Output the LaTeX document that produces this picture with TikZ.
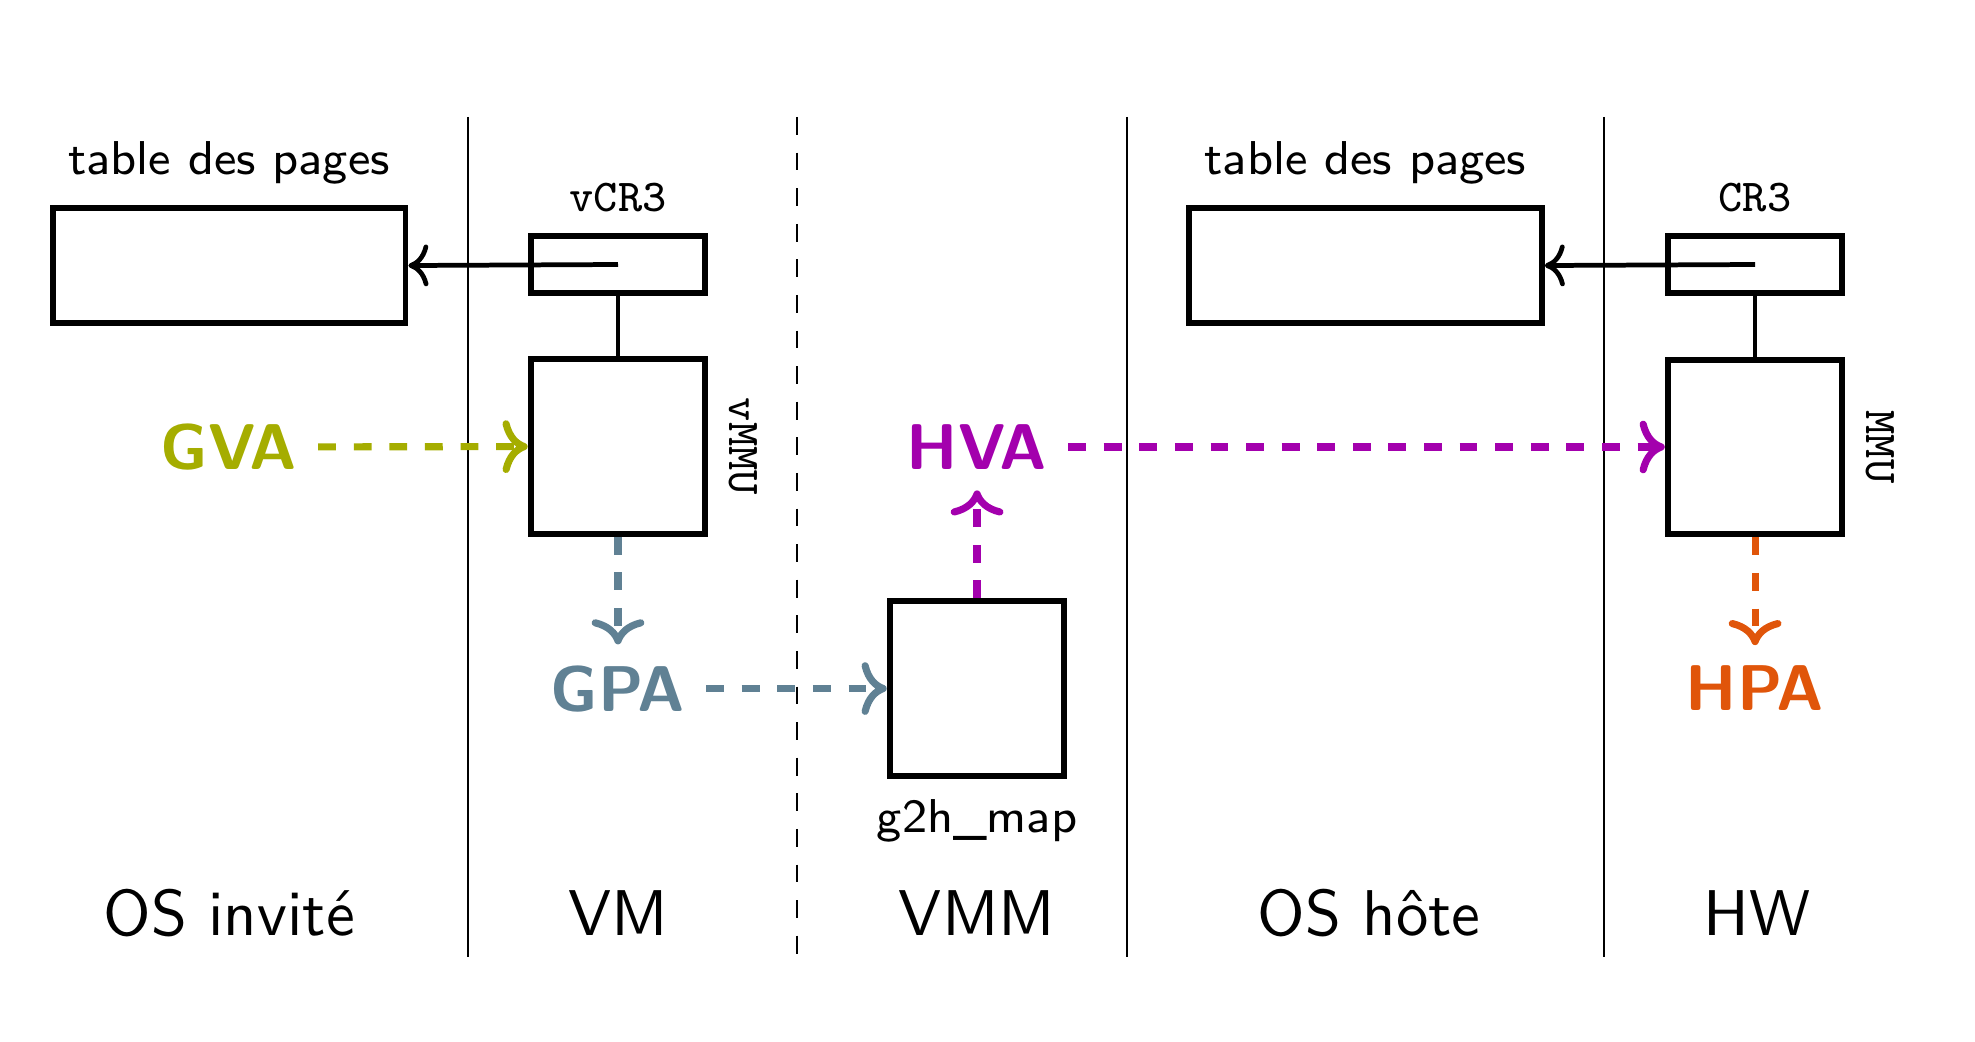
\documentclass[tikz,border=0pt]{standalone}
\usepackage{amsmath}
\usepackage[table]{xcolor}
\usetikzlibrary{arrows, arrows.meta}
\usetikzlibrary{calc}

\definecolor{gvacol}{RGB}{165,173,0}
\definecolor{gpacol}{RGB}{96,129,148}
\definecolor{hvacol}{RGB}{163,0,173}
\definecolor{hpacol}{RGB}{224,85,10}

\tikzset{
  box/.style={draw, line width=1pt, inner sep=0pt, minimum width=1.035cm, minimum height=1.035cm},
  regbox/.style={box, minimum height=0.335cm},
  tblbox/.style={box, minimum width=2.09cm, minimum height=0.685cm},
  smalltxt/.style={font=\sffamily\fontsize{8}{10}\selectfont},
  regtxt/.style={font=\ttfamily\fontsize{7.7}{9}\selectfont},
  layertxt/.style={font=\sffamily\fontsize{10.9}{13}\selectfont, anchor=base},
  addr/.style={font=\sffamily\bfseries\fontsize{10.9}{13}\selectfont},
  flow/.style={->, very thick, dashed},
}

\begin{document}
\begin{tikzpicture}
      \useasboundingbox (0,0) rectangle (11.70,-6.167);

      % couches
      \foreach \x in {2.773, 6.677, 9.502}
        \draw[thin] (\x,-0.693) -- (\x,-5.669);
      \draw[thin, dashed] (4.722,-0.693) -- (4.722,-5.669);

      \node[layertxt] (osg) at (1.357,-5.539) {OS invité};
      \node[layertxt] (vm) at (3.661,-5.539) {VM};
      \node[layertxt] (vmm) at (5.788,-5.539) {VMM};
      \node[layertxt] (osh) at (8.110,-5.539) {OS hôte};
      \node[layertxt] (hw) at (10.410,-5.539) {HW};

      % invite
      \node[tblbox, label={[smalltxt]above:table des pages}] (tdpg) at (1.357,-1.573) {};
      \node[regbox, label={[regtxt]above:vCR3}] (vcr3) at (3.661,-1.567) {};
      \node[box] (vmmu) at (3.661,-2.645) {};
      \node[regtxt, rotate=-90, anchor=south] (vmmulbl) at (vmmu.east) {vMMU};

      % hote
      \node[tblbox, label={[smalltxt]above:table des pages}] (tdph) at (8.089,-1.573) {};
      \node[regbox, label={[regtxt]above:CR3}] (cr3) at (10.397,-1.567) {};
      \node[box] (mmu) at (10.397,-2.648) {};
      \node[regtxt, rotate=-90, anchor=south] (mmulbl) at (mmu.east) {MMU};

      \node[box, label={[smalltxt]below:g2h\_map}] (g2h) at (5.788,-4.079) {};

      \node[addr, text=gvacol] (gva) at (1.357,-2.648) {GVA};
      \node[addr, text=gpacol] (gpa) at (3.661,-4.079) {GPA};
      \node[addr, text=hvacol] (hva) at (5.788,-2.648) {HVA};
      \node[addr, text=hpacol] (hpa) at (10.397,-4.079) {HPA};

      \draw[->, thick] (vcr3.center) -- (tdpg.east);
      \draw[thick] (vcr3) -- (vmmu);
      \draw[->, thick] (cr3.center) -- (tdph.east);
      \draw[thick] (cr3) -- (mmu);

      \draw[flow, gvacol] (gva) -- (vmmu);
      \draw[flow, gpacol] (vmmu) -- (gpa);
      \draw[flow, gpacol] (gpa) -- (g2h);
      \draw[flow, hvacol] (g2h) -- (hva);
      \draw[flow, hvacol] (hva) -- (mmu);
      \draw[flow, hpacol] (mmu) -- (hpa);

    \end{tikzpicture}
\end{document}
